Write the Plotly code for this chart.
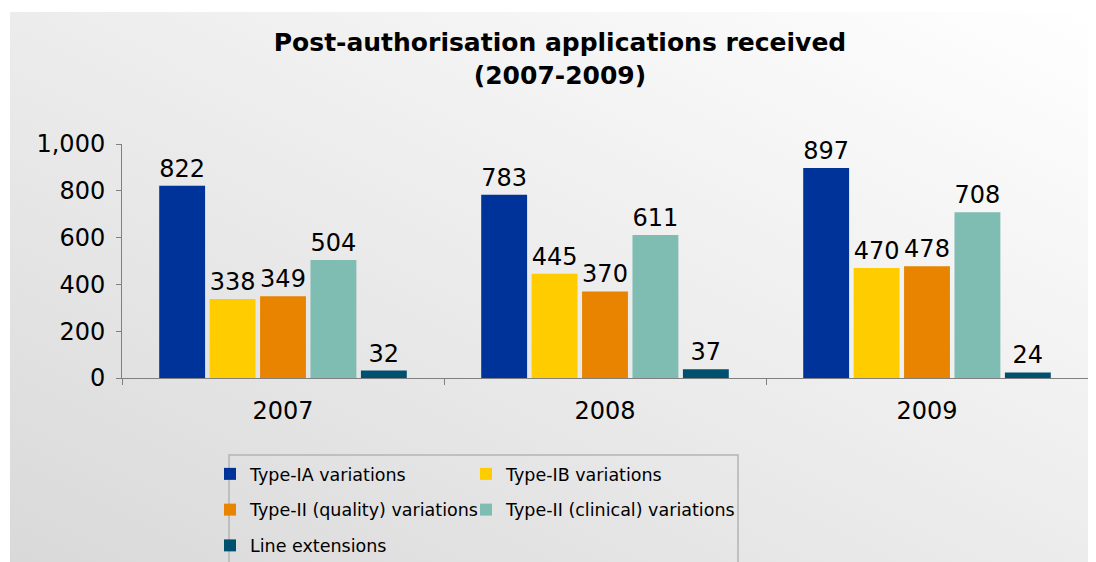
import base64
import plotly.graph_objects as go

years = ["2007", "2008", "2009"]
series_names = [
    "Type-IA variations",
    "Type-IB variations",
    "Type-II (quality) variations",
    "Type-II (clinical) variations",
    "Line extensions",
]
type_ia = [822, 783, 897]
type_ib = [338, 445, 470]
type_ii_quality = [349, 370, 478]
type_ii_clinical = [504, 611, 708]
line_extensions = [32, 37, 24]
series_values = [type_ia, type_ib, type_ii_quality, type_ii_clinical, line_extensions]
colors = ["#003399", "#FFCC00", "#E88400", "#7FBCB2", "#00506F"]
legend_column = ["legend", "legend2", "legend", "legend2", "legend"]

FONT = "DejaVu Sans, Verdana, sans-serif"

# figure is drawn inside the page's default 8px body margin
W, H = 1088, 554
L, R, T, B = 114, 8, 136, 184
pw, ph = W - L - R, H - T - B


def px_x(fx):
    return (fx - L) / pw


def px_y(fy):
    return (H - B - fy) / ph


fig = go.Figure()
for i, (name, vals, col) in enumerate(zip(series_names, series_values, colors)):
    fig.add_trace(go.Bar(
        x=years, y=vals, name=name, marker=dict(color=col, line=dict(width=0)),
        text=[str(v) for v in vals], textposition="outside",
        textfont=dict(family=FONT, size=24, color="#000000"),
        constraintext="none", cliponaxis=False,
        legend=legend_column[i], legendgroup=name,
    ))

svg = ('<svg xmlns="http://www.w3.org/2000/svg" width="100" height="100" preserveAspectRatio="none">'
       '<defs><linearGradient id="g" x1="0" y1="1" x2="1" y2="0">'
       '<stop offset="0" stop-color="#d9d9d9"/><stop offset="0.5" stop-color="#ececec"/>'
       '<stop offset="1" stop-color="#ffffff"/></linearGradient></defs>'
       '<rect width="100" height="100" fill="url(#g)"/></svg>')
src = "data:image/svg+xml;base64," + base64.b64encode(svg.encode()).decode()

legend_common = dict(
    orientation="v", yanchor="top", xanchor="left",
    borderwidth=0, bgcolor="rgba(0,0,0,0)",
    font=dict(family=FONT, size=17.5, color="#000000"),
    traceorder="grouped", tracegroupgap=10, itemclick=False, itemdoubleclick=False,
)

fig.update_layout(
    width=W, height=H,
    margin=dict(l=L, r=R, t=T, b=B, pad=0, autoexpand=False),
    paper_bgcolor="#ffffff", plot_bgcolor="rgba(0,0,0,0)",
    barmode="group", bargap=0.217, bargroupgap=0.09,
    font=dict(family=FONT, size=24, color="#000000"),
    title=dict(text="<b>Post-authorisation applications received<br>(2007-2009)</b>",
               x=552 / W, xanchor="center", xref="container",
               y=1 - 43 / H, yanchor="top", yref="container",
               font=dict(family=FONT, size=25, color="#000000")),
    images=[dict(source=src, xref="paper", yref="paper",
                 x=px_x(2), y=px_y(4),
                 sizex=(W - 2) / pw, sizey=(H - 4) / ph,
                 sizing="stretch", xanchor="left", yanchor="top", layer="below")],
    shapes=[dict(type="rect", xref="paper", yref="paper",
                 x0=px_x(221), x1=px_x(730), y0=px_y(447), y1=px_y(H + 20),
                 line=dict(color="#b4b4b4", width=1.5), fillcolor="rgba(0,0,0,0)",
                 layer="below")],
    legend=dict(x=px_x(202), y=px_y(448), **legend_common),
    legend2=dict(x=px_x(458), y=px_y(448), **legend_common),
    showlegend=True,
)
fig.update_xaxes(
    type="category", showline=True, linecolor="#808080", linewidth=1,
    ticks="outside", tickson="boundaries", ticklen=6, tickcolor="#808080",
    showgrid=False, tickfont=dict(family=FONT, size=24), ticklabelstandoff=11,
)
fig.update_yaxes(
    range=[0, 1000], tickvals=[0, 200, 400, 600, 800, 1000], tickformat=",d",
    showline=True, linecolor="#808080", linewidth=1,
    ticks="outside", ticklen=5, tickcolor="#808080",
    showgrid=False, zeroline=False, tickfont=dict(family=FONT, size=24),
    ticklabelstandoff=6,
)

fig.write_html("out.html")
